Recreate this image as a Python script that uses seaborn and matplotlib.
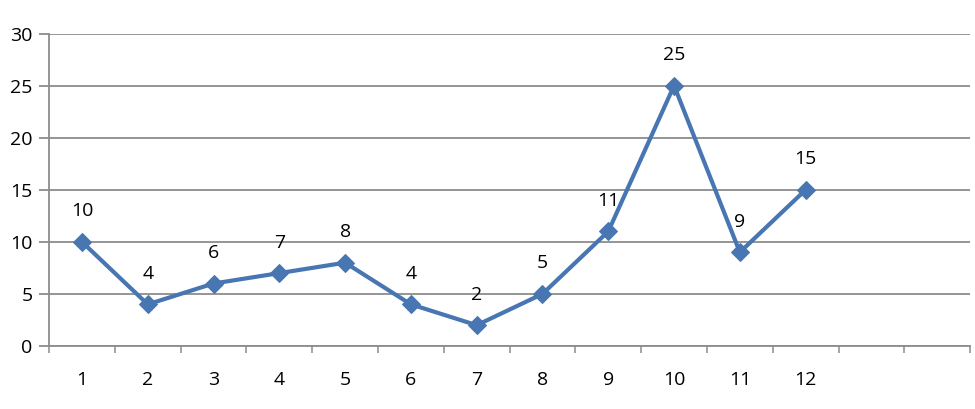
import matplotlib
matplotlib.use("Agg")
import matplotlib.pyplot as plt
import seaborn as sns
import pandas as pd
from matplotlib.ticker import FixedLocator

# -----------------------------
# Data
# -----------------------------
positions = [1, 2, 3, 4, 5, 6, 7, 8, 9, 10, 11, 12]
values = [10, 4, 6, 7, 8, 4, 2, 5, 11, 25, 9, 15]
n_slots = 14  # axis has two empty categories on the right

df = pd.DataFrame({"x": positions, "y": values})

# -----------------------------
# Style
# -----------------------------
sns.set_theme(style="white")
plt.rcParams["font.family"] = ["Open Sans", "DejaVu Sans"]

line_color = "#4876B2"
grid_color = "#8C8C8C"

fig = plt.figure(figsize=(9.75, 4.09), dpi=100)
ax = fig.add_axes([0.0503, 0.154, 0.9447, 0.764])

sns.lineplot(data=df, x="x", y="y", ax=ax, color=line_color, linewidth=3.0,
             marker="D", markersize=9, markeredgecolor=line_color, zorder=3)

# data labels
for xv, yv in zip(positions, values):
    ax.annotate(str(yv), (xv, yv), xytext=(0, 22), textcoords="offset points",
                ha="center", va="center", fontsize=14, color="#000000")

# -----------------------------
# Axes
# -----------------------------
ax.set_xlim(0.5, n_slots + 0.5)
ax.set_ylim(0, 30)
ax.set_yticks(range(0, 31, 5))
ax.set_xticks(positions)
ax.set_xticklabels([str(p) for p in positions])
ax.xaxis.set_minor_locator(FixedLocator([i + 0.5 for i in range(0, n_slots + 1)]))

ax.tick_params(bottom=True, left=True, which="both")
ax.tick_params(axis="x", which="major", length=0, pad=18, labelsize=14, colors="#000000")
ax.tick_params(axis="x", which="minor", length=5, width=1.1, color=grid_color, direction="out")
ax.tick_params(axis="y", which="major", length=7, width=1.3, color=grid_color,
               direction="out", pad=5, labelsize=14, labelcolor="#000000")

ax.yaxis.grid(True, color=grid_color, linewidth=1.3)
ax.xaxis.grid(False)
ax.set_axisbelow(True)

for side in ["top", "right"]:
    ax.spines[side].set_visible(False)
for side in ["left", "bottom"]:
    ax.spines[side].set_color(grid_color)
    ax.spines[side].set_linewidth(1.3)

ax.set_xlabel("")
ax.set_ylabel("")

fig.savefig("out.png", dpi=100)
